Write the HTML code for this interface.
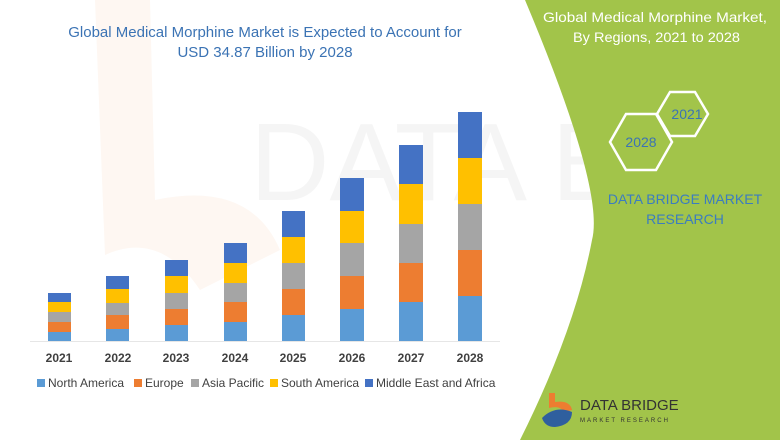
<!DOCTYPE html>
<html><head><meta charset="utf-8"><style>
body{margin:0;width:780px;height:440px;overflow:hidden;background:#fff;font-family:"Liberation Sans",sans-serif}
</style></head><body>
<svg width="780" height="440" xmlns="http://www.w3.org/2000/svg" style="position:absolute;left:0;top:0">
<text x="250" y="200" font-size="110" fill="#f5f5f5" font-family="Liberation Sans">DATA BRIDGE</text>
<path d="M95,0 L150,0 L155,200 Q250,180 280,250 L200,290 Q160,230 105,255 Z" fill="#fef7f2"/>
<path d="M525,0 Q605,190 592,240 Q575,330 520,440 L780,440 L780,0 Z" fill="#a2c44a"/>
<text x="265" y="37" text-anchor="middle" font-size="15" fill="#3b73b4">Global Medical Morphine Market is Expected to Account for</text>
<text x="265" y="57" text-anchor="middle" font-size="15" fill="#3b73b4">USD 34.87 Billion by 2028</text>
<text x="543" y="22" font-size="14" fill="#fff" textLength="224" lengthAdjust="spacingAndGlyphs">Global Medical Morphine Market,</text>
<text x="573" y="42" font-size="14" fill="#fff" textLength="167" lengthAdjust="spacingAndGlyphs">By Regions, 2021 to 2028</text>
<polygon points="657,114 670,92 695,92 708,114 695,136 670,136" fill="none" stroke="#fff" stroke-width="2.5"/>
<polygon points="610,142 626,114 656,114 672,142 656,170 626,170" fill="none" stroke="#fff" stroke-width="2.5"/>
<text x="687" y="119" text-anchor="middle" font-size="14" fill="#3b73b4">2021</text>
<text x="641" y="147" text-anchor="middle" font-size="14" fill="#3b73b4">2028</text>
<text x="685" y="204" text-anchor="middle" font-size="14" fill="#3b7cc0">DATA BRIDGE MARKET</text>
<text x="685" y="224" text-anchor="middle" font-size="14" fill="#3b7cc0">RESEARCH</text>
<path d="M549,393 L555,393 L555,402 Q570,400 572,410 L564,412 Q560,405 549,408 Z" fill="#ed7d31"/>
<path d="M542,418 Q555,405 572,412 Q572,425 555,427 Q545,427 542,418 Z" fill="#2f5f9e"/>
<text x="580" y="410" font-size="15" fill="#333">DATA BRIDGE</text>
<text x="580" y="422" font-size="6" fill="#333" letter-spacing="2">MARKET RESEARCH</text>
<line x1="30" y1="341.5" x2="500" y2="341.5" stroke="#e6e6e6"/>
<g font-size="12" font-weight="bold" fill="#404040" text-anchor="middle">
<text x="59" y="362">2021</text><text x="118" y="362">2022</text><text x="176" y="362">2023</text><text x="235" y="362">2024</text><text x="293" y="362">2025</text><text x="352" y="362">2026</text><text x="411" y="362">2027</text><text x="470" y="362">2028</text>
</g>
<g font-size="12" fill="#404040">
<rect x="37" y="379" width="8" height="8" fill="#5b9bd5"/><text x="48" y="387">North America</text>
<rect x="134" y="379" width="8" height="8" fill="#ed7d31"/><text x="145" y="387">Europe</text>
<rect x="191" y="379" width="8" height="8" fill="#a5a5a5"/><text x="202" y="387">Asia Pacific</text>
<rect x="270" y="379" width="8" height="8" fill="#ffc000"/><text x="281" y="387">South America</text>
<rect x="365" y="379" width="8" height="8" fill="#4472c4"/><text x="376" y="387">Middle East and Africa</text>
</g>
<g>
<rect x="48" y="332" width="23" height="9" fill="#5b9bd5"/><rect x="48" y="322" width="23" height="10" fill="#ed7d31"/><rect x="48" y="312" width="23" height="10" fill="#a5a5a5"/><rect x="48" y="302" width="23" height="10" fill="#ffc000"/><rect x="48" y="293" width="23" height="9" fill="#4472c4"/>
<rect x="106" y="329" width="23" height="12" fill="#5b9bd5"/><rect x="106" y="315" width="23" height="14" fill="#ed7d31"/><rect x="106" y="303" width="23" height="12" fill="#a5a5a5"/><rect x="106" y="289" width="23" height="14" fill="#ffc000"/><rect x="106" y="276" width="23" height="13" fill="#4472c4"/>
<rect x="165" y="325" width="23" height="16" fill="#5b9bd5"/><rect x="165" y="309" width="23" height="16" fill="#ed7d31"/><rect x="165" y="293" width="23" height="16" fill="#a5a5a5"/><rect x="165" y="276" width="23" height="17" fill="#ffc000"/><rect x="165" y="260" width="23" height="16" fill="#4472c4"/>
<rect x="224" y="322" width="23" height="19" fill="#5b9bd5"/><rect x="224" y="302" width="23" height="20" fill="#ed7d31"/><rect x="224" y="283" width="23" height="19" fill="#a5a5a5"/><rect x="224" y="263" width="23" height="20" fill="#ffc000"/><rect x="224" y="243" width="23" height="20" fill="#4472c4"/>
<rect x="282" y="315" width="23" height="26" fill="#5b9bd5"/><rect x="282" y="289" width="23" height="26" fill="#ed7d31"/><rect x="282" y="263" width="23" height="26" fill="#a5a5a5"/><rect x="282" y="237" width="23" height="26" fill="#ffc000"/><rect x="282" y="211" width="23" height="26" fill="#4472c4"/>
<rect x="340" y="309" width="24" height="32" fill="#5b9bd5"/><rect x="340" y="276" width="24" height="33" fill="#ed7d31"/><rect x="340" y="243" width="24" height="33" fill="#a5a5a5"/><rect x="340" y="211" width="24" height="32" fill="#ffc000"/><rect x="340" y="178" width="24" height="33" fill="#4472c4"/>
<rect x="399" y="302" width="24" height="39" fill="#5b9bd5"/><rect x="399" y="263" width="24" height="39" fill="#ed7d31"/><rect x="399" y="224" width="24" height="39" fill="#a5a5a5"/><rect x="399" y="184" width="24" height="40" fill="#ffc000"/><rect x="399" y="145" width="24" height="39" fill="#4472c4"/>
<rect x="458" y="296" width="24" height="45" fill="#5b9bd5"/><rect x="458" y="250" width="24" height="46" fill="#ed7d31"/><rect x="458" y="204" width="24" height="46" fill="#a5a5a5"/><rect x="458" y="158" width="24" height="46" fill="#ffc000"/><rect x="458" y="112" width="24" height="46" fill="#4472c4"/>
</g>
</svg>
</body></html>
